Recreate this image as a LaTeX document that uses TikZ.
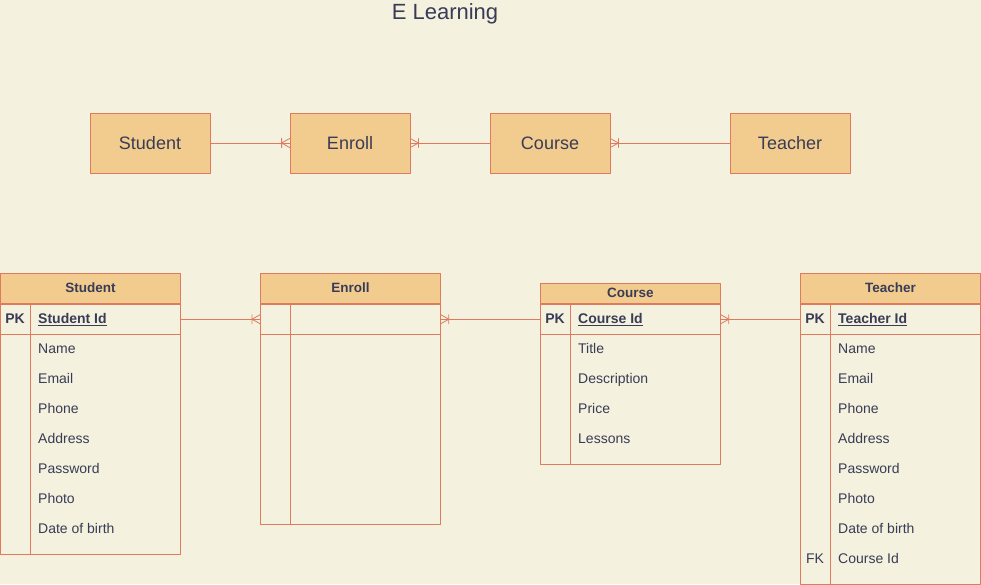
\documentclass[tikz,border=0pt]{standalone}
\usepackage{fontspec}
\setmainfont{Liberation Sans}
\usetikzlibrary{positioning}

\definecolor{bgcol}{HTML}{F4F1DE}
\definecolor{boxfill}{HTML}{F2CC8F}
\definecolor{linecol}{HTML}{E07A5F}
\definecolor{txtcol}{HTML}{393C56}

\tikzset{
  entity/.style={draw=linecol, fill=boxfill, line width=0.8pt, minimum width=120pt,
    minimum height=60pt, inner sep=0pt, text=txtcol, font=\fontsize{18}{20}\selectfont},
  hdr/.style={draw=linecol, fill=boxfill, line width=0.8pt, minimum width=180pt,
    minimum height=30pt, inner sep=0pt, anchor=north west, text=txtcol,
    text height=9.5pt, text depth=1.5pt,
    font=\fontsize{13.5}{15}\selectfont\bfseries},
  tbl/.style={draw=linecol, line width=0.8pt, minimum width=180pt, inner sep=0pt},
  pkrow/.style={draw=linecol, line width=0.8pt, minimum width=180pt,
    minimum height=30pt, inner sep=0pt},
  tline/.style={draw=linecol, line width=0.8pt},
  rel/.style={draw=linecol, line width=0.8pt},
  keytxt/.style={text=txtcol, font=\fontsize{14}{16}\selectfont\bfseries, inner sep=0pt,
    text height=10pt, text depth=2pt},
  fldtxt/.style={text=txtcol, font=\fontsize{14}{16}\selectfont, inner sep=0pt, anchor=west,
    text height=10pt, text depth=2pt},
  manyend/.pic={
    \draw[linecol, line width=0.8pt] (-8,0) -- (0,-4.5) (-8,0) -- (0,4.5)
      (-8,-4.5) -- (-8,4.5);
  }
}

\begin{document}
\begin{tikzpicture}[x=1pt, y=-1pt, line cap=round, line join=round]
  % Page background
  \fill[bgcol] (0,0) rectangle (981,584);
  \useasboundingbox (0,0) rectangle (981,584);

  % Title
  \node[text=txtcol, font=\fontsize{22}{24}\selectfont] (title) at (445,14) {E Learning};

  % Conceptual entities (top row)
  \node[entity] (estu) at (150,143) {Student};
  \node[entity] (eenr) at (350,143) {Enroll};
  \node[entity] (ecou) at (550,143) {Course};
  \node[entity] (etea) at (790,143) {Teacher};

  \draw[rel] (estu) -- (eenr);
  \draw[rel] (eenr) -- (ecou);
  \draw[rel] (ecou) -- (etea);
  \pic at (eenr.west) {manyend};
  \pic[rotate=180] at (eenr.east) {manyend};
  \pic[rotate=180] at (ecou.east) {manyend};

  % Student table
  \node[hdr] (sthead) at (0,273) {Student};
  \node[tbl, minimum height=250pt, below=0pt of sthead] (stbody) {};
  \node[pkrow, below=0pt of sthead] (stpk) {};
  \draw[tline] ([xshift=30pt]stbody.north west) -- ([xshift=30pt]stbody.south west);
  \node[keytxt] at ([xshift=15pt]stpk.west) {PK};
  \node[fldtxt, font=\fontsize{14}{16}\selectfont\bfseries] at ([xshift=38pt]stpk.west) {\underline{Student Id}};
  \foreach \f [count=\i] in {Name,Email,Phone,Address,Password,Photo,Date of birth}
    \node[fldtxt] at (38,319+30*\i) {\f};

  % Enroll table
  \node[hdr] (enhead) at (260,273) {Enroll};
  \node[tbl, minimum height=220pt, below=0pt of enhead] (enbody) {};
  \node[pkrow, below=0pt of enhead] (enpk) {};
  \draw[tline] ([xshift=30pt]enbody.north west) -- ([xshift=30pt]enbody.south west);

  % Course table
  \node[hdr, minimum height=20pt] (cohead) at (540,283) {Course};
  \node[tbl, minimum height=160pt, below=0pt of cohead] (cobody) {};
  \node[pkrow, below=0pt of cohead] (copk) {};
  \draw[tline] ([xshift=30pt]cobody.north west) -- ([xshift=30pt]cobody.south west);
  \node[keytxt] at ([xshift=15pt]copk.west) {PK};
  \node[fldtxt, font=\fontsize{14}{16}\selectfont\bfseries] at ([xshift=38pt]copk.west) {\underline{Course Id}};
  \foreach \f [count=\i] in {Title,Description,Price,Lessons}
    \node[fldtxt] at (578,319+30*\i) {\f};

  % Teacher table
  \node[hdr] (tehead) at (800,273) {Teacher};
  \node[tbl, minimum height=280pt, below=0pt of tehead] (tebody) {};
  \node[pkrow, below=0pt of tehead] (tepk) {};
  \draw[tline] ([xshift=30pt]tebody.north west) -- ([xshift=30pt]tebody.south west);
  \node[keytxt] at ([xshift=15pt]tepk.west) {PK};
  \node[fldtxt, font=\fontsize{14}{16}\selectfont\bfseries] at ([xshift=38pt]tepk.west) {\underline{Teacher Id}};
  \foreach \f [count=\i] in {Name,Email,Phone,Address,Password,Photo,Date of birth,Course Id}
    \node[fldtxt] at (838,319+30*\i) {\f};
  \node[keytxt, font=\fontsize{14}{16}\selectfont] (tefk) at (815,559) {FK};

  % Relations between tables
  \draw[rel] (stpk.east) -- (enpk.west);
  \draw[rel] (enpk.east) -- (copk.west);
  \draw[rel] (copk.east) -- (tepk.west);
  \pic at (enpk.west) {manyend};
  \pic[rotate=180] at (enpk.east) {manyend};
  \pic[rotate=180] at (copk.east) {manyend};
\end{tikzpicture}
\end{document}
